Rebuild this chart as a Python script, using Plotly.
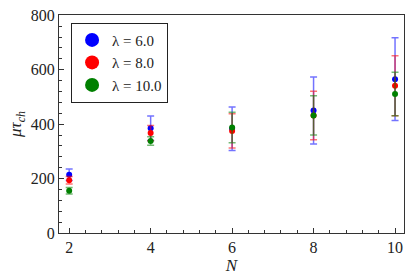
import plotly.graph_objects as go

N = [2, 4, 6, 8, 10]
labels = ["λ = 6.0", "λ = 8.0", "λ = 10.0"]
colors = ["#0000ff", "#ff0000", "#008000"]
err_colors = ["rgba(0,0,255,0.55)", "rgba(255,0,0,0.55)", "rgba(0,128,0,0.55)"]
y_ticks = [0, 200, 400, 600, 800]

vals_l6 = [214, 385, 383, 450, 565]
errs_l6 = [21, 45, 80, 123, 152]
vals_l8 = [194, 367, 375, 432, 541]
errs_l8 = [14, 28, 63, 89, 110]
vals_l10 = [155, 338, 388, 432, 511]
errs_l10 = [12, 16, 56, 72, 80]

series = [(vals_l6, errs_l6), (vals_l8, errs_l8), (vals_l10, errs_l10)]

fig = go.Figure()
for (v, e), lab, c, ec in zip(series, labels, colors, err_colors):
    fig.add_trace(go.Scatter(
        x=N, y=v, mode="markers", showlegend=False,
        marker=dict(color=c, size=6),
        error_y=dict(type="data", array=e, color=ec, thickness=1.5, width=3.5),
    ))
for lab, c in zip(labels, colors):
    fig.add_trace(go.Scatter(
        x=[None], y=[None], mode="markers", name=lab,
        marker=dict(color=c, size=14),
    ))

font = "'Liberation Serif', 'DejaVu Serif', serif"
axis_common = dict(
    showgrid=False, zeroline=False, showline=True, linecolor="#333",
    linewidth=1.2, mirror=True, ticks="inside", ticklen=5, tickwidth=1,
    tickcolor="#333", tickfont=dict(family=font, size=16, color="#222"),
    ticklabeloverflow="allow",
)
fig.update_xaxes(range=[1.75, 10.22], tickvals=N, ticktext=[str(n) for n in N],
                 minor=dict(dtick=0.4, tick0=2, ticks="inside", ticklen=3, tickcolor="#333"),
                 title=dict(text="<i>N</i>", font=dict(family=font, size=17, color="#222"), standoff=2),
                 **axis_common)
fig.update_yaxes(range=[0, 801], tickvals=y_ticks, ticktext=[str(t) for t in y_ticks],
                 minor=dict(dtick=40, tick0=0, ticks="inside", ticklen=3, tickcolor="#333"),
                 title=dict(text="<i>μτ</i><sub><i>ch</i></sub>", font=dict(family=font, size=17, color="#222"), standoff=4),
                 **axis_common)
fig.update_layout(
    width=415, height=277,
    margin=dict(l=59, r=11, t=7, b=43),
    plot_bgcolor="white", paper_bgcolor="white",
    legend=dict(x=0.035, y=0.965, xanchor="left", yanchor="top",
                bordercolor="#222", borderwidth=1, bgcolor="white",
                font=dict(family=font, size=15, color="#222"),
                tracegroupgap=0, itemwidth=30),
)
fig.write_html("out.html", config={"displayModeBar": False},
               post_script="document.body.style.margin='0';document.body.style.padding='0';")
